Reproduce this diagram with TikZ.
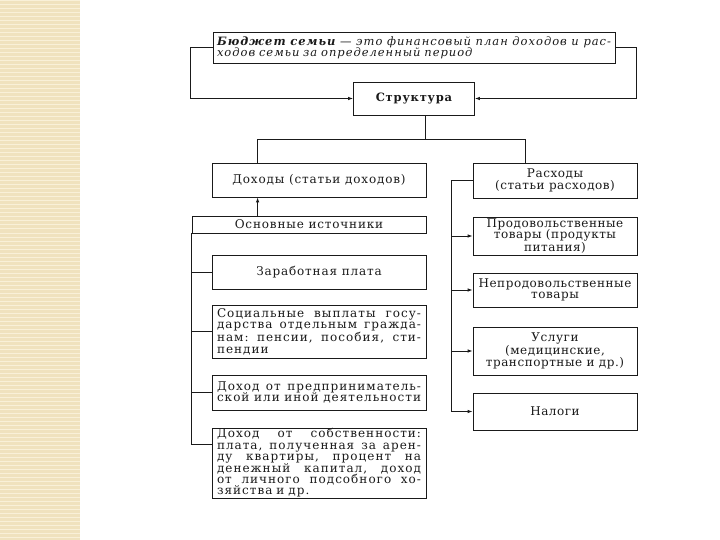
\documentclass[tikz,border=0pt]{standalone}
\usepackage{fontspec}
\setmainfont{DejaVu Serif}
\newfontfamily\bodyf{DejaVu Serif}[LetterSpace=7]
\newfontfamily\justf{DejaVu Serif}[LetterSpace=8.5]
\newfontfamily\narrf{DejaVu Serif}[LetterSpace=4.5]
\usetikzlibrary{arrows.meta}
\definecolor{stripbg}{HTML}{F0E2BE}
\definecolor{stripln}{HTML}{F9F0D8}
\definecolor{ink}{HTML}{1A1A1A}
\newcommand\jl[2]{\leavevmode\hbox to #1{#2}}
\newcommand\wsp{\hskip 0.2em plus 1fil\relax}
\tikzset{
  box/.style={draw=ink, line width=0.8pt, inner sep=0pt, text=ink, align=center,
    font=\bodyf\fontsize{12}{11.7}\selectfont},
  lbox/.style={box, minimum width=214pt, align=left, text width=204pt,
    font=\justf\fontsize{12}{11.6}\selectfont},
  rbox/.style={box, minimum width=164pt, font=\narrf\fontsize{12}{11.7}\selectfont},
  line/.style={draw=ink, line width=0.8pt},
  arr/.style={line, -{Latex[length=5pt,width=3.5pt]}}
}
\begin{document}
\begin{tikzpicture}[x=1pt,y=-1pt]
\useasboundingbox (0,0) rectangle (720,540);
\fill[stripbg] (0,0) rectangle (80,540);
\foreach \yy in {1,5,...,540} \draw[stripln, line width=1pt] (0,\yy) -- (80,\yy);

% top definition box
\node[box, minimum width=402pt, minimum height=31pt, align=left, text width=394pt,
  font=\justf\fontsize{11.5}{11.2}\selectfont] (top) at (414,47.5)
  {\jl{394pt}{\bfseries\itshape Бюджет\wsp семьи\wsp\mdseries —\wsp это\wsp финансовый\wsp план\wsp доходов\wsp и\wsp рас-}\\
   \itshape ходов семьи за определенный период};

\node[box, minimum width=121pt, minimum height=33pt, font=\bodyf\bfseries\fontsize{11.5}{12}\selectfont] (str) at (414,98.5) {Структура};

% left column
\node[box, minimum width=214pt, minimum height=34pt] (doh) at (319,180) {Доходы (статьи доходов)};
\node[box, minimum width=234pt, minimum height=17pt] (osn) at (309,224.5) {Основные источники};
\node[box, minimum width=214pt, minimum height=34pt] (zar) at (319,272) {Заработная плата};
\node[lbox, minimum height=53pt] (soc) at (319,331.5)
  {\jl{204pt}{Социальные\wsp выплаты\wsp госу-}\\
   \jl{204pt}{дарства\wsp отдельным\wsp гражда-}\\
   \jl{204pt}{нам:\wsp пенсии,\wsp пособия,\wsp сти-}\\
   пендии};
\node[lbox, minimum height=35pt] (pred) at (319,392.5)
  {\jl{204pt}{Доход\wsp от\wsp предприниматель-}\\
   \jl{204pt}{ской\wsp или\wsp иной\wsp деятельности}};
\node[lbox, minimum height=70pt, font=\justf\fontsize{12}{11.1}\selectfont] (sob) at (319,463)
  {\jl{204pt}{Доход\wsp от\wsp собственности:}\\
   \jl{204pt}{плата,\wsp полученная\wsp за\wsp арен-}\\
   \jl{204pt}{ду\wsp квартиры,\wsp процент\wsp на}\\
   \jl{204pt}{денежный\wsp капитал,\wsp доход}\\
   \jl{204pt}{от\wsp личного\wsp подсобного\wsp хо-}\\
   зяйства и др.};

% right column
\node[rbox, minimum height=35pt] (ras) at (555,180.5) {Расходы\\(статьи расходов)};
\node[rbox, minimum height=38pt] (prod) at (555,236) {Продовольственные\\товары (продукты\\питания)};
\node[rbox, minimum height=34pt] (nepr) at (555,290) {Непродовольственные\\товары};
\node[rbox, minimum height=48pt] (usl) at (555,351) {Услуги\\(медицинские,\\транспортные и др.)};
\node[rbox, minimum height=37pt] (nal) at (555,411.5) {Налоги};

% top connectors
\draw[arr] (top.west) -- ++(-22,0) |- (str.west);
\draw[arr] (top.east) -- ++(21,0) |- (str.east);

% structure split
\coordinate (sd) at ([xshift=11pt]str.south);
\coordinate (j) at ([yshift=-24pt]sd);
\coordinate (dl) at ([xshift=46pt]doh.north west);
\coordinate (rl) at ([xshift=53pt]ras.north west);
\draw[line] (sd) -- (j);
\draw[line] (dl) |- (j) -| (rl);

% income sources
\draw[arr] (dl |- osn.north) -- (dl |- doh.south);
\coordinate (sb) at ([yshift=-17pt]sob.north west);
\draw[line] (osn.south west) -- (osn.south west |- sb);
\draw[line] (osn.south west |- zar.west) -- (zar.west);
\draw[line] (osn.south west |- soc.west) -- (soc.west);
\draw[line] (osn.south west |- pred.west) -- (pred.west);
\draw[line] (osn.south west |- sb) -- (sb);

% expenses
\coordinate (rb) at ([xshift=-21pt]ras.west);
\draw[line] (ras.west) -- (rb) -- (rb |- nal.west);
\draw[arr] (rb |- prod.west) -- (prod.west);
\draw[arr] (rb |- nepr.west) -- (nepr.west);
\draw[arr] (rb |- usl.west) -- (usl.west);
\draw[arr] (rb |- nal.west) -- (nal.west);
\end{tikzpicture}
\end{document}
